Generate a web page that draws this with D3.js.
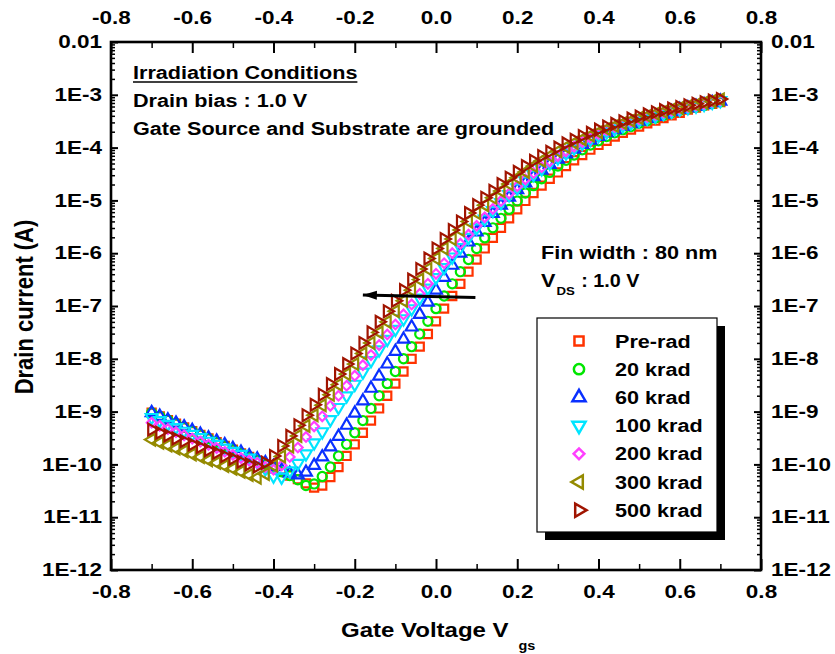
<!DOCTYPE html>
<html>
<head>
<meta charset="utf-8">
<script src="https://cdn.jsdelivr.net/npm/d3@7"></script>
<style>
  body { margin: 0; background: #fff; }
  text { font-family: "Liberation Sans", Arial, sans-serif; font-weight: bold; fill: #000; }
</style>
</head>
<body>
<div id="chart-area"></div>
<script>
// Gate voltage (V)
const vgs = [-0.70,-0.68,-0.66,-0.64,-0.62,-0.60,-0.58,-0.56,-0.54,-0.52,
  -0.50,-0.48,-0.46,-0.44,-0.42,-0.40,-0.38,-0.36,-0.34,-0.32,
  -0.30,-0.28,-0.26,-0.24,-0.22,-0.20,-0.18,-0.16,-0.14,-0.12,
  -0.10,-0.08,-0.06,-0.04,-0.02,0.00,0.02,0.04,0.06,0.08,
  0.10,0.12,0.14,0.16,0.18,0.20,0.22,0.24,0.26,0.28,
  0.30,0.32,0.34,0.36,0.38,0.40,0.42,0.44,0.46,0.48,
  0.50,0.52,0.54,0.56,0.58,0.60,0.62,0.64,0.66,0.68,0.70];

// log10 of drain current (A), one value per vgs point
const preRad = [-9.02,-9.09,-9.16,-9.23,-9.30,-9.37,-9.44,-9.51,-9.58,-9.65,
  -9.72,-9.79,-9.86,-9.93,-10.00,-10.07,-10.14,-10.21,-10.28,-10.36,
  -10.44,-10.40,-10.24,-10.05,-9.84,-9.62,-9.40,-9.17,-8.94,-8.70,
  -8.47,-8.24,-8.00,-7.77,-7.53,-7.29,-7.05,-6.81,-6.58,-6.35,
  -6.12,-5.91,-5.71,-5.52,-5.34,-5.17,-5.01,-4.86,-4.72,-4.59,
  -4.47,-4.35,-4.24,-4.14,-4.04,-3.95,-3.87,-3.79,-3.72,-3.66,
  -3.60,-3.54,-3.49,-3.44,-3.39,-3.34,-3.28,-3.24,-3.20,-3.17,-3.14];
const krad20 = [-9.02,-9.09,-9.16,-9.23,-9.30,-9.37,-9.44,-9.51,-9.58,-9.65,
  -9.72,-9.79,-9.86,-9.93,-10.00,-10.07,-10.14,-10.21,-10.29,-10.40,
  -10.37,-10.23,-10.05,-9.84,-9.62,-9.40,-9.17,-8.94,-8.70,-8.47,
  -8.24,-8.00,-7.77,-7.53,-7.29,-7.05,-6.81,-6.58,-6.35,-6.12,
  -5.91,-5.71,-5.52,-5.34,-5.17,-5.01,-4.86,-4.72,-4.59,-4.47,
  -4.35,-4.24,-4.14,-4.04,-3.95,-3.87,-3.79,-3.72,-3.66,-3.60,
  -3.54,-3.49,-3.44,-3.39,-3.34,-3.29,-3.26,-3.23,-3.20,-3.16,-3.13];
const krad60 = [-9.02,-9.09,-9.16,-9.22,-9.29,-9.36,-9.43,-9.50,-9.56,-9.63,
  -9.70,-9.77,-9.84,-9.90,-9.97,-10.04,-10.11,-10.17,-10.20,-10.15,
  -10.02,-9.86,-9.67,-9.47,-9.26,-9.03,-8.80,-8.56,-8.33,-8.10,
  -7.86,-7.63,-7.40,-7.16,-6.93,-6.70,-6.46,-6.23,-6.00,-5.79,
  -5.60,-5.42,-5.25,-5.09,-4.94,-4.80,-4.67,-4.55,-4.43,-4.32,
  -4.22,-4.12,-4.03,-3.94,-3.86,-3.79,-3.72,-3.66,-3.60,-3.55,
  -3.50,-3.45,-3.41,-3.37,-3.32,-3.28,-3.25,-3.22,-3.19,-3.15,-3.12];
const krad100 = [-9.11,-9.17,-9.24,-9.30,-9.37,-9.43,-9.49,-9.56,-9.62,-9.69,
  -9.75,-9.81,-9.88,-9.95,-10.08,-10.22,-10.24,-10.12,-9.98,-9.80,
  -9.59,-9.38,-9.15,-8.92,-8.70,-8.48,-8.25,-8.03,-7.83,-7.63,
  -7.44,-7.24,-7.05,-6.85,-6.66,-6.46,-6.27,-6.07,-5.89,-5.70,
  -5.52,-5.35,-5.19,-5.04,-4.89,-4.76,-4.63,-4.51,-4.40,-4.29,
  -4.19,-4.10,-4.01,-3.92,-3.84,-3.77,-3.70,-3.64,-3.58,-3.53,
  -3.48,-3.44,-3.40,-3.35,-3.31,-3.27,-3.24,-3.21,-3.18,-3.14,-3.11];
const krad200 = [-9.21,-9.27,-9.33,-9.39,-9.45,-9.51,-9.57,-9.63,-9.69,-9.76,
  -9.82,-9.88,-9.93,-9.97,-10.05,-10.10,-10.02,-9.86,-9.68,-9.48,
  -9.28,-9.09,-8.89,-8.70,-8.51,-8.32,-8.12,-7.93,-7.74,-7.54,
  -7.35,-7.16,-6.97,-6.77,-6.58,-6.39,-6.19,-6.00,-5.82,-5.65,
  -5.48,-5.32,-5.16,-5.01,-4.87,-4.73,-4.60,-4.48,-4.37,-4.26,
  -4.16,-4.07,-3.98,-3.89,-3.81,-3.74,-3.67,-3.61,-3.56,-3.51,
  -3.46,-3.42,-3.38,-3.34,-3.30,-3.26,-3.23,-3.20,-3.17,-3.13,-3.10];
const krad300 = [-9.53,-9.59,-9.64,-9.70,-9.75,-9.81,-9.86,-9.92,-9.97,-10.03,
  -10.08,-10.14,-10.20,-10.25,-10.18,-10.02,-9.85,-9.66,-9.46,-9.27,
  -9.07,-8.88,-8.68,-8.49,-8.29,-8.10,-7.90,-7.70,-7.50,-7.30,
  -7.10,-6.90,-6.70,-6.50,-6.30,-6.10,-5.91,-5.73,-5.56,-5.40,
  -5.24,-5.09,-4.95,-4.82,-4.69,-4.57,-4.46,-4.35,-4.25,-4.16,
  -4.07,-3.99,-3.91,-3.84,-3.77,-3.71,-3.65,-3.59,-3.54,-3.49,
  -3.44,-3.40,-3.36,-3.32,-3.28,-3.25,-3.22,-3.19,-3.15,-3.12,-3.09];
const krad500 = [-9.34,-9.40,-9.45,-9.51,-9.56,-9.62,-9.67,-9.73,-9.78,-9.84,
  -9.89,-9.95,-10.00,-10.04,-9.97,-9.84,-9.65,-9.46,-9.26,-9.07,
  -8.87,-8.68,-8.48,-8.29,-8.10,-7.90,-7.70,-7.50,-7.30,-7.10,
  -6.90,-6.70,-6.50,-6.30,-6.10,-5.91,-5.73,-5.56,-5.40,-5.24,
  -5.09,-4.95,-4.82,-4.69,-4.57,-4.46,-4.35,-4.25,-4.16,-4.08,
  -4.00,-3.92,-3.85,-3.78,-3.72,-3.66,-3.60,-3.55,-3.50,-3.45,
  -3.41,-3.37,-3.33,-3.29,-3.26,-3.23,-3.20,-3.17,-3.14,-3.11,-3.08];

const seriesNames = ["Pre-rad", "20 krad", "60 krad", "100 krad", "200 krad", "300 krad", "500 krad"];
const seriesValues = [preRad, krad20, krad60, krad100, krad200, krad300, krad500];

const xTickValues = [-0.8, -0.6, -0.4, -0.2, 0.0, 0.2, 0.4, 0.6, 0.8];
const xTickLabels = ["-0.8", "-0.6", "-0.4", "-0.2", "0.0", "0.2", "0.4", "0.6", "0.8"];
const yTickValues = [1e-12, 1e-11, 1e-10, 1e-9, 1e-8, 1e-7, 1e-6, 1e-5, 1e-4, 1e-3, 1e-2];
const yTickLabels = ["1E-12", "1E-11", "1E-10", "1E-9", "1E-8", "1E-7", "1E-6", "1E-5", "1E-4", "1E-3", "0.01"];

const MARGIN = { LEFT: 111, RIGHT: 74, TOP: 42, BOTTOM: 84 };
const WIDTH = 835 - MARGIN.LEFT - MARGIN.RIGHT;
const HEIGHT = 654 - MARGIN.TOP - MARGIN.BOTTOM;
const STRETCH = 1.2; // glyphs in the original are drawn wider than normal

const colors = ["#ff3300", "#00e600", "#0a30ff", "#00e5ff", "#ff40ff", "#948a00", "#a01400"];
const symbols = [
  { type: d3.symbolSquare, size: 66, rot: 0 },
  { type: d3.symbolCircle, size: 66, rot: 0 },
  { type: d3.symbolTriangle, size: 60, rot: 0 },
  { type: d3.symbolTriangle, size: 60, rot: 180 },
  { type: d3.symbolSquare, size: 46, rot: 45 },
  { type: d3.symbolTriangle, size: 60, rot: -90 },
  { type: d3.symbolTriangle, size: 60, rot: 90 }
];

function stretch(sel, k) {
  sel.each(function () {
    const w = this.getComputedTextLength();
    d3.select(this).attr("textLength", w * k).attr("lengthAdjust", "spacingAndGlyphs");
  });
}

const svg = d3.select("#chart-area").append("svg")
  .attr("width", 835)
  .attr("height", 654);

const g = svg.append("g")
  .attr("transform", `translate(${MARGIN.LEFT},${MARGIN.TOP})`);

const x = d3.scaleLinear().domain([-0.8, 0.8]).range([0, WIDTH]);
const y = d3.scaleLog().domain([1e-12, 1e-2]).range([HEIGHT, 0]);

// minor ticks
const xMinor = [-0.7, -0.5, -0.3, -0.1, 0.1, 0.3, 0.5, 0.7];
const yMinor = [];
for (let e = -12; e < -2; e++) {
  for (let k = 2; k <= 9; k++) yMinor.push(k * Math.pow(10, e));
}

function fmtX(d) { return xTickLabels[xTickValues.indexOf(d)]; }
function fmtY(d) { return yTickLabels[yTickValues.indexOf(d)]; }

// major axes
const axes = [
  { call: d3.axisBottom(x).tickValues(xTickValues).tickFormat(fmtX).tickSizeInner(-11).tickSizeOuter(0).tickPadding(15), t: `translate(0,${HEIGHT})` },
  { call: d3.axisTop(x).tickValues(xTickValues).tickFormat(fmtX).tickSizeInner(-11).tickSizeOuter(0).tickPadding(18), t: "translate(0,0)" },
  { call: d3.axisLeft(y).tickValues(yTickValues).tickFormat(fmtY).tickSizeInner(-7).tickSizeOuter(0).tickPadding(9), t: "translate(0,0)" },
  { call: d3.axisRight(y).tickValues(yTickValues).tickFormat(fmtY).tickSizeInner(-7).tickSizeOuter(0).tickPadding(10), t: `translate(${WIDTH},0)` }
];
axes.forEach(a => {
  const ax = g.append("g").attr("transform", a.t).call(a.call);
  ax.select(".domain").remove();
  ax.selectAll("line").attr("stroke", "#000").attr("stroke-width", 2);
  ax.selectAll("text").attr("font-size", "18px").attr("font-family", null).call(stretch, 1.25);
});

// minor axes
[
  { call: d3.axisBottom(x).tickValues(xMinor).tickSize(-6).tickFormat(""), t: `translate(0,${HEIGHT})` },
  { call: d3.axisTop(x).tickValues(xMinor).tickSize(-6).tickFormat(""), t: "translate(0,0)" },
  { call: d3.axisLeft(y).tickValues(yMinor).tickSize(-4).tickFormat(""), t: "translate(0,0)" },
  { call: d3.axisRight(y).tickValues(yMinor).tickSize(-4).tickFormat(""), t: `translate(${WIDTH},0)` }
].forEach(a => {
  const ax = g.append("g").attr("transform", a.t).call(a.call);
  ax.select(".domain").remove();
  ax.selectAll("line").attr("stroke", "#000").attr("stroke-width", 1.5);
});

// frame
g.append("rect")
  .attr("width", WIDTH)
  .attr("height", HEIGHT)
  .attr("fill", "none")
  .attr("stroke", "#000")
  .attr("stroke-width", 2.6);

// data markers
seriesValues.forEach((vals, s) => {
  const sym = d3.symbol().type(symbols[s].type).size(symbols[s].size);
  const points = vgs.map((v, i) => ({ v: v, i: Math.pow(10, vals[i]) }));
  g.append("g").selectAll("path")
    .data(points)
    .enter().append("path")
    .attr("d", sym)
    .attr("transform", d => `translate(${x(d.v)},${y(d.i)}) rotate(${symbols[s].rot})`)
    .attr("fill", "none")
    .attr("stroke", colors[s])
    .attr("stroke-width", 2.2);
});

// shift arrow
svg.append("defs").append("marker")
  .attr("id", "head")
  .attr("markerUnits", "userSpaceOnUse")
  .attr("markerWidth", 15)
  .attr("markerHeight", 10)
  .attr("refX", 14)
  .attr("refY", 5)
  .attr("orient", "auto")
  .append("path")
  .attr("d", "M0,0.5 L14,5 L0,9.5 Z")
  .attr("fill", "#000");

g.append("line")
  .attr("x1", x(0.097))
  .attr("y1", y(1.45e-7))
  .attr("x2", x(-0.18))
  .attr("y2", y(1.62e-7))
  .attr("stroke", "#000")
  .attr("stroke-width", 3)
  .attr("marker-end", "url(#head)");

// annotations
function label(px, py, str, size) {
  const t = svg.append("text")
    .attr("x", px)
    .attr("y", py)
    .attr("font-size", size + "px")
    .text(str);
  t.call(stretch, STRETCH);
  return t;
}

const title = label(133, 79, "Irradiation Conditions", 18);
const tw = title.node().getBBox().width;
svg.append("line")
  .attr("x1", 133).attr("x2", 133 + tw)
  .attr("y1", 82).attr("y2", 82)
  .attr("stroke", "#000").attr("stroke-width", 1.6);
label(133, 107, "Drain bias : 1.0 V", 18);
label(133, 135, "Gate Source and Substrate are grounded", 18);

label(541, 259, "Fin width : 80 nm", 18);
const vText = label(541, 287, "V", 18);
const vEnd = 541 + vText.node().getBBox().width;
const dsText = label(vEnd + 1, 295, "DS", 11);
label(vEnd + 2 + dsText.node().getBBox().width, 287, " : 1.0 V", 18).attr("xml:space", "preserve");

// legend
const legend = svg.append("g").attr("transform", "translate(537,318)");
legend.append("rect")
  .attr("x", 8).attr("y", 8)
  .attr("width", 180).attr("height", 214)
  .attr("fill", "#000");
legend.append("rect")
  .attr("width", 180).attr("height", 214)
  .attr("fill", "#fff")
  .attr("stroke", "#000")
  .attr("stroke-width", 1.2);

seriesNames.forEach((name, s) => {
  const row = legend.append("g")
    .attr("transform", `translate(0,${23 + s * 28.2})`);
  row.append("path")
    .attr("d", d3.symbol().type(symbols[s].type).size(symbols[s].size * 1.25))
    .attr("transform", `translate(42,0) rotate(${symbols[s].rot})`)
    .attr("fill", "none")
    .attr("stroke", colors[s])
    .attr("stroke-width", 2.5);
  row.append("text")
    .attr("x", 78)
    .attr("y", 6.5)
    .attr("font-size", "18px")
    .text(name)
    .call(stretch, STRETCH);
});

// axis titles
const xTitle = label(341, 637, "Gate Voltage V", 20);
const xEnd = 341 + xTitle.node().getBBox().width;
label(xEnd + 9, 650, "gs", 12);

svg.append("text")
  .attr("transform", "translate(33,307) scale(1.15,1) rotate(-90)")
  .attr("text-anchor", "middle")
  .attr("font-size", "22px")
  .text("Drain current (A)");
</script>
</body>
</html>
